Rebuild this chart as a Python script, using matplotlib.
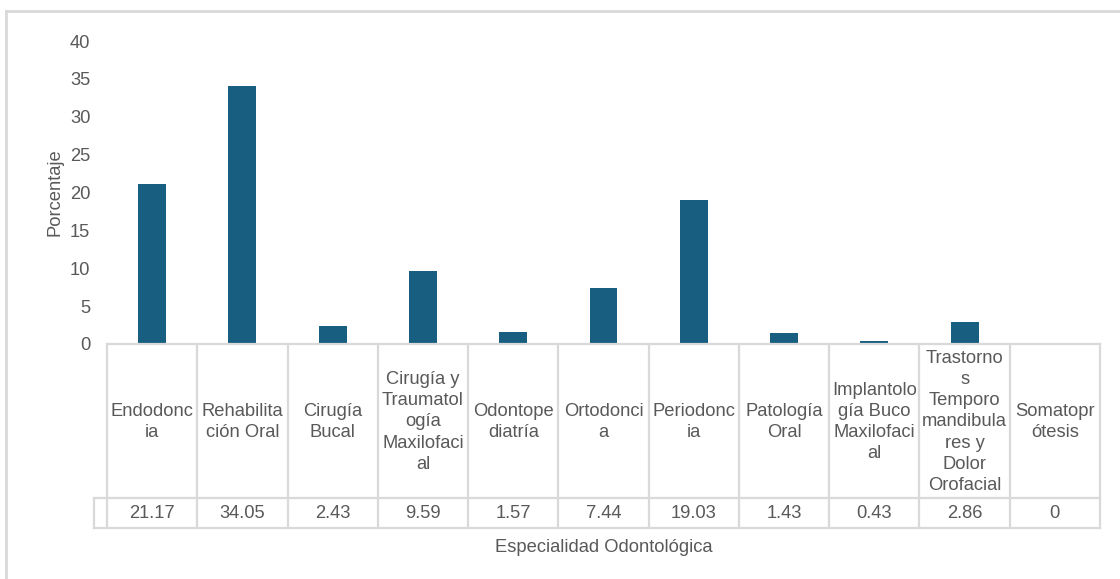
import numpy as np
import matplotlib.pyplot as plt
from matplotlib.lines import Line2D
import matplotlib.transforms as mtransforms

# categories as they are wrapped in the chart's data table
categories = ["Endodonc\nia", "Rehabilita\nción Oral", "Cirugía\nBucal",
              "Cirugía y\nTraumatol\nogía\nMaxilofaci\nal", "Odontope\ndiatría",
              "Ortodonci\na", "Periodonc\nia", "Patología\nOral",
              "Implantolo\ngía Buco\nMaxilofaci\nal",
              "Trastorno\ns\nTemporo\nmandibula\nres y\nDolor\nOrofacial",
              "Somatopr\nótesis"]
values = [21.17, 34.05, 2.43, 9.59, 1.57, 7.44, 19.03, 1.43, 0.43, 2.86, 0]
value_labels = ["21.17", "34.05", "2.43", "9.59", "1.57", "7.44", "19.03",
                "1.43", "0.43", "2.86", "0"]
yticks = [0, 5, 10, 15, 20, 25, 30, 35, 40]

plt.rcParams['font.family'] = ['Liberation Sans', 'DejaVu Sans']
W, H = 1120, 579
fig = plt.figure(figsize=(W / 100, H / 100), dpi=100)
fig.patch.set_facecolor('white')

txt = '#595959'
grid = '#D9D9D9'
fs = 13.2

# plot area in pixels
left, right, top, bottom = 107, 1100, 41, 344
ax = fig.add_axes([left / W, 1 - bottom / H, (right - left) / W, (bottom - top) / H])

x = np.arange(len(values))
ax.bar(x, values, width=0.31, color='#175E80')
ax.set_xlim(-0.5, len(values) - 0.5)
ax.set_ylim(0, 40)
ax.set_yticks(yticks)
ax.set_yticklabels([str(t) for t in yticks], fontsize=fs, color=txt)
ax.tick_params(axis='y', length=0, pad=12)
ax.set_xticks([])
for s in ax.spines.values():
    s.set_visible(False)
ax.set_ylabel("Porcentaje", fontsize=fs, color=txt, labelpad=5)

# data table below the axis (x in data units, y in pixels from top)
trans = mtransforms.blended_transform_factory(ax.transData, fig.transFigure)
def fy(py):
    return 1 - py / H

row1, row2, row3 = 344, 498, 528
x0, x1 = -0.5, len(values) - 0.5
xl = x0 - 13 / 90.3
lw = 1.6
for py, xa in [(row1, x0), (row2, xl), (row3, xl)]:
    fig.add_artist(Line2D([xa, x1], [fy(py), fy(py)], transform=trans, color=grid, lw=lw))
for i in range(len(values) + 1):
    xb = i - 0.5
    fig.add_artist(Line2D([xb, xb], [fy(row1), fy(row3)], transform=trans, color=grid, lw=lw))
fig.add_artist(Line2D([xl, xl], [fy(row2), fy(row3)], transform=trans, color=grid, lw=lw))

for i, (c, v) in enumerate(zip(categories, value_labels)):
    fig.text(i, fy((row1 + row2) / 2 + 1), c, transform=trans, ha='center', va='center',
             fontsize=fs, color=txt, linespacing=1.32, multialignment='center')
    fig.text(i, fy((row2 + row3) / 2 + 1), v, transform=trans, ha='center', va='center',
             fontsize=fs, color=txt)

fig.text((left + right) / 2 / W, fy(547), "Especialidad Odontológica", ha='center',
         va='center', fontsize=fs, color=txt)

# chart border
fig.add_artist(Line2D([6 / W, 6 / W], [0, fy(11)], color=grid, lw=2))
fig.add_artist(Line2D([6 / W, 1], [fy(11), fy(11)], color=grid, lw=2))

fig.savefig("out.png", dpi=100, facecolor='white')
